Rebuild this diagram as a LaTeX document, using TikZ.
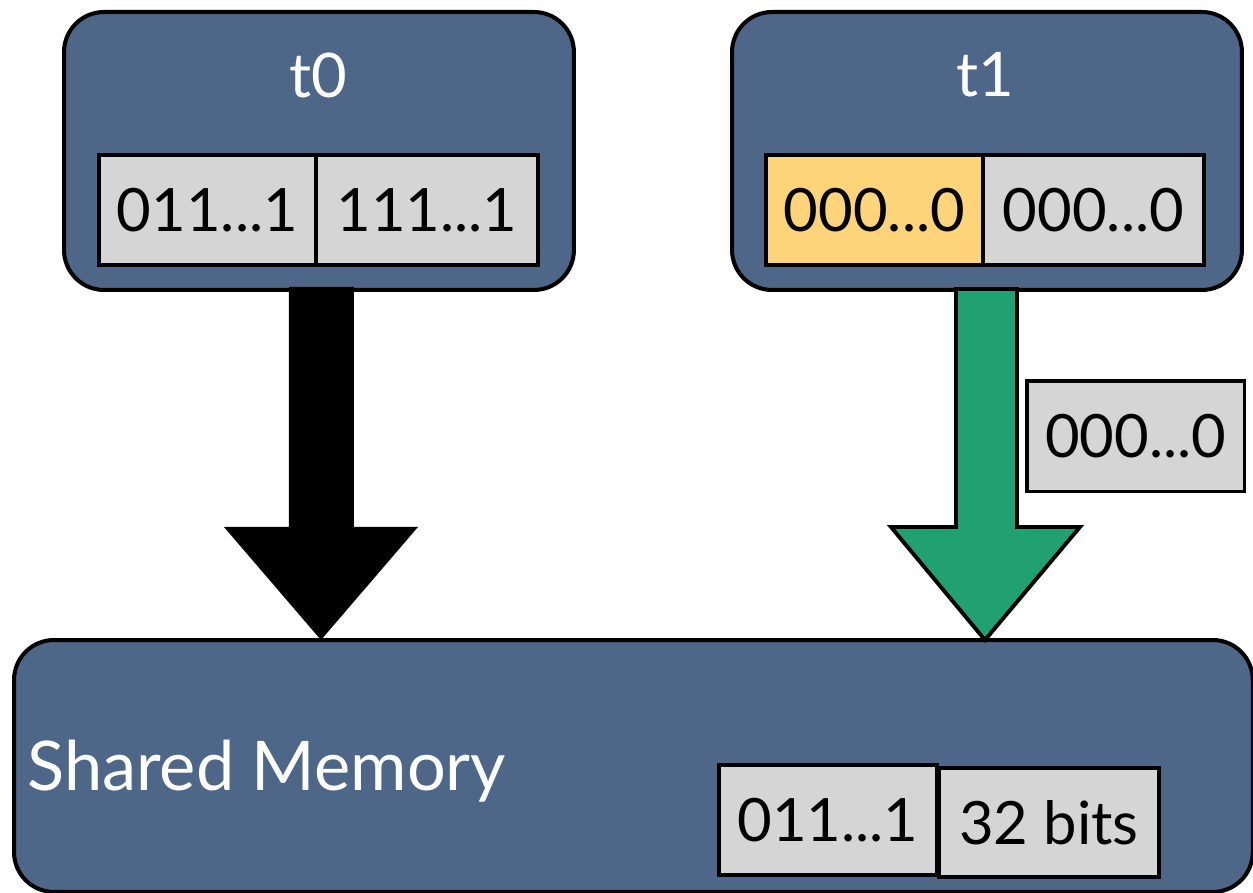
\documentclass[tikz,border=0pt]{standalone}
\usepackage{fontspec}
\setmainfont{Lato}
\usetikzlibrary{calc}
\definecolor{slate}{HTML}{4E6687}
\definecolor{cellgray}{HTML}{D5D5D5}
\definecolor{cellgold}{HTML}{FED47A}
\definecolor{flowgreen}{HTML}{21A073}
\tikzset{
  panel/.style={draw=black, line width=2.3pt, fill=slate, rounded corners=0.8cm,
    anchor=north west, inner sep=0pt},
  cell/.style={draw=black, line width=2.2pt, fill=cellgray, anchor=north west,
    inner sep=0pt, minimum height=2.2cm, font=\fontsize{34}{40}\selectfont},
  heading/.style={text=white, font=\fontsize{35}{40}\selectfont, inner sep=0pt},
}
\begin{document}
\begin{tikzpicture}[x=0.02cm, y=-0.02cm]
\useasboundingbox (0,0) rectangle (1253,892);

% thread t0
\node[panel, minimum width=10.2cm, minimum height=5.56cm] (t0) at (62,10) {};
\node[heading] (t0lbl) at (318,75) {t0};
\node[cell, minimum width=4.34cm] (c00) at (97,153) {011...1};
\node[cell, minimum width=4.44cm] (c01) at (314,153) {111...1};

% thread t1
\node[panel, minimum width=10.2cm, minimum height=5.56cm] (t1) at (730,10) {};
\node[heading] (t1lbl) at (985,75) {t1};
\node[cell, fill=cellgold, minimum width=4.34cm] (c10) at (764,153) {000...0};
\node[cell, minimum width=4.42cm] (c11) at (981,153) {000...0};

% shared memory
\node[panel, minimum width=24.78cm, minimum height=5.04cm] (mem) at (12,638) {};
\node[text=white, anchor=base west, inner sep=0pt, font=\fontsize{39}{44}\selectfont]
  (memlbl) at (27,790) {Shared Memory};
\node[cell, minimum width=4.36cm] (m0) at (717,763) {011...1};
\node[cell, minimum width=4.4cm, minimum height=2.18cm] (m1) at (937,766) {32 bits};

% value carried by the t1 write
\node[cell, line width=2pt, minimum width=4.36cm, minimum height=2.22cm] (val) at (1025,379) {000...0};

% write from t0: solid black block arrow
\fill[black]
  ($(t0.south)+(-30,-5)$) -- ($(t0.south)+(-30,235)$) -- ($(t0.south)+(-95,235)$)
  -- ($(t0.south |- mem.north)+(2,2)$)
  -- ($(t0.south)+(99,235)$) -- ($(t0.south)+(35,235)$) -- ($(t0.south)+(35,-5)$) -- cycle;

% write from t1: outlined green block arrow
\filldraw[fill=flowgreen, draw=black, line width=2.2pt, line join=miter]
  ($(t1.south)+(-31,-3)$) -- ($(t1.south)+(-31,235)$) -- ($(t1.south)+(-96,235)$)
  -- ($(t1.south |- mem.north)+(-2,2)$)
  -- ($(t1.south)+(93,235)$) -- ($(t1.south)+(30,235)$) -- ($(t1.south)+(30,-3)$) -- cycle;
\end{tikzpicture}
\end{document}
